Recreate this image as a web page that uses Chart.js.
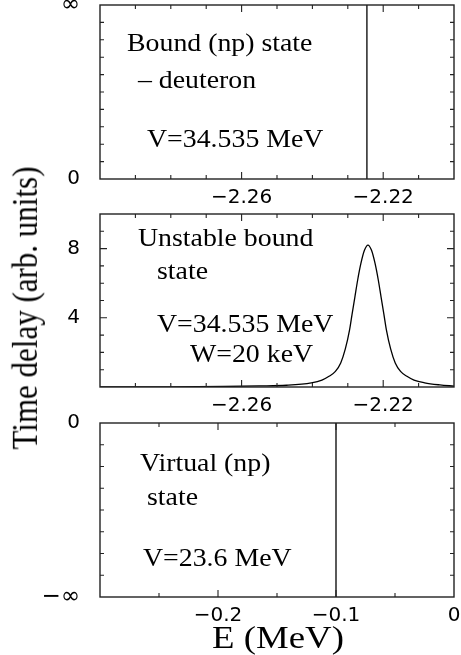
<!DOCTYPE html>
<html>
<head>
<meta charset="utf-8">
<script src="https://cdn.jsdelivr.net/npm/chart.js@4/dist/chart.umd.min.js"></script>
<style>
body { margin: 0; background: #fff; }
#wrap { position: relative; width: 461px; height: 655px; overflow: hidden; }
canvas { position: absolute; left: 0; }
.title { position: absolute; font-family: "Liberation Serif", serif; white-space: nowrap; color: #000; }
#ytitle { font-size: 31px; line-height: 31px; left: 25px; top: 308px; transform: translate(-50%, -50%) scaleX(1.15) rotate(-90deg); }
#xtitle { font-size: 32px; line-height: 32px; left: 278px; top: 621px; transform: translateX(-50%) scaleX(1.15); }
</style>
</head>
<body>
<div id="wrap">
  <canvas id="c1" width="461" height="215" style="top:0px"></canvas>
  <canvas id="c2" width="461" height="230" style="top:195px"></canvas>
  <canvas id="c3" width="461" height="230" style="top:400px"></canvas>
  <div class="title" id="ytitle">Time delay (arb. units)</div>
  <div class="title" id="xtitle">E (MeV)</div>
</div>
<script>
// panel 1: bound (np) state - deuteron, a sharp line at the binding energy
var boundE = [-2.2246, -2.2246];
var boundT = [0, 10];

// panel 2: unstable bound state, peak
var unstableE = [-2.300, -2.280, -2.265, -2.255, -2.2473, -2.2403, -2.2373, -2.2353, -2.2335, -2.2320,
                 -2.2307, -2.2295, -2.2288, -2.2280, -2.2272, -2.2263, -2.2253, -2.2243, -2.2233, -2.2223,
                 -2.2214, -2.2206, -2.2198, -2.2191, -2.2179, -2.2166, -2.2151, -2.2133, -2.2113, -2.2083,
                 -2.2040, -2.2000];
var unstableT = [0.00, 0.01, 0.03, 0.06, 0.10, 0.24, 0.40, 0.62, 0.90, 1.39,
                 2.20, 3.30, 4.20, 5.20, 6.20, 7.14, 7.90, 8.20, 7.90, 7.14,
                 6.20, 5.20, 4.20, 3.30, 2.20, 1.39, 0.90, 0.62, 0.40, 0.24,
                 0.12, 0.05];

// panel 3: virtual (np) state
var virtualE = [-0.1, -0.1];
var virtualT = [-8, 0];

// tick labels
var xTicksTop = [-2.26, -2.22];
var xTicksBottom = [-0.2, -0.1, 0];
var yTicks1 = [0, 10], yText1 = ['0', '\u221e'];
var yTicks2 = [4, 8], yText2 = ['4', '8'];
var yTicks3 = [0, -8], yText3 = ['0', '\u2212\u221e'];

function fmt(v) {
    var s = v === 0 ? '0' : String(v);
    return s.replace('-', '\u2212');
}

function xLabeler(list) {
    return function (v) {
        for (var i = 0; i < list.length; i++) {
            if (Math.abs(list[i] - v) < 1e-6) return fmt(list[i]);
        }
        return '';
    };
}
function yLabeler(vals, txt) {
    return function (v) {
        for (var i = 0; i < vals.length; i++) {
            if (Math.abs(vals[i] - v) < 1e-6) return txt[i];
        }
        return '';
    };
}

function pts(xs, ys) {
    return xs.map(function (x, i) { return { x: x, y: ys[i] }; });
}

// frame on four sides with inward tick marks
var frameTicks = {
    id: 'frameTicks',
    afterDraw: function (chart) {
        var ctx = chart.ctx, a = chart.chartArea;
        var x = chart.scales.x, y = chart.scales.y;
        ctx.save();
        ctx.strokeStyle = '#222';
        ctx.lineWidth = 1.4;
        ctx.strokeRect(a.left, a.top, a.right - a.left, a.bottom - a.top);
        ctx.lineWidth = 1.1;
        ctx.beginPath();
        x.ticks.forEach(function (t) {
            var p = x.getPixelForValue(t.value);
            if (p <= a.left + 1 || p >= a.right - 1) return;
            var len = t.label ? 7 : 4;
            ctx.moveTo(p, a.bottom); ctx.lineTo(p, a.bottom - len);
            ctx.moveTo(p, a.top); ctx.lineTo(p, a.top + len);
        });
        y.ticks.forEach(function (t) {
            var p = y.getPixelForValue(t.value);
            if (p <= a.top + 1 || p >= a.bottom - 1) return;
            var len = t.label ? 7 : 4;
            ctx.moveTo(a.left, p); ctx.lineTo(a.left + len, p);
            ctx.moveTo(a.right, p); ctx.lineTo(a.right - len, p);
        });
        ctx.stroke();
        ctx.restore();
    }
};

// text notes inside each panel
var notes = {
    id: 'notes',
    afterDraw: function (chart, args, opts) {
        var ctx = chart.ctx, a = chart.chartArea;
        ctx.save();
        ctx.fillStyle = '#000';
        ctx.font = '26px "Liberation Serif"';
        ctx.textBaseline = 'alphabetic';
        (opts.items || []).forEach(function (n) {
            ctx.save();
            ctx.translate(a.left + n[1], a.top + n[2]);
            ctx.scale(1.07, 1);
            ctx.fillText(n[0], 0, 0);
            ctx.restore();
        });
        ctx.restore();
    }
};

function tickFont(c) {
    var big = c.tick && typeof c.tick.label === 'string' && c.tick.label.indexOf('\u221e') >= 0;
    return { family: 'DejaVu Sans', size: big ? 23 : 20 };
}

function makePanel(id, padTop, axisH, data, smooth, xr, xLab, yr, yLab, items) {
    return new Chart(document.getElementById(id), {
        type: 'line',
        data: {
            datasets: [{
                data: data,
                borderColor: '#000',
                borderWidth: 1.3,
                pointRadius: 0,
                fill: false,
                cubicInterpolationMode: smooth ? 'monotone' : 'default',
                tension: 0
            }]
        },
        options: {
            responsive: false,
            animation: false,
            layout: { padding: { top: padTop, right: 7, bottom: 0, left: 0 } },
            plugins: {
                legend: { display: false },
                tooltip: { enabled: false },
                notes: { items: items }
            },
            scales: {
                x: {
                    type: 'linear',
                    min: xr[0], max: xr[1],
                    grid: { display: false, drawTicks: false },
                    border: { display: false },
                    ticks: {
                        stepSize: xr[2],
                        autoSkip: false,
                        maxRotation: 0,
                        padding: 7,
                        color: '#000',
                        font: { family: 'DejaVu Sans', size: 20 },
                        callback: xLab
                    },
                    afterFit: function (s) {
                        s.height = axisH;
                        s.paddingLeft = 0; s.paddingRight = 0;
                    }
                },
                y: {
                    min: yr[0], max: yr[1],
                    grid: { display: false, drawTicks: false },
                    border: { display: false },
                    ticks: {
                        stepSize: 1,
                        autoSkip: false,
                        padding: 20,
                        color: '#000',
                        font: tickFont,
                        callback: yLab
                    },
                    afterFit: function (s) {
                        s.width = 100;
                        s.paddingTop = 0; s.paddingBottom = 0;
                    }
                }
            }
        },
        plugins: [frameTicks, notes]
    });
}

makePanel('c1', 5, 36, pts(boundE, boundT), false,
    [-2.30, -2.20, 0.01], xLabeler(xTicksTop), [0, 10], yLabeler(yTicks1, yText1),
    [['Bound (np) state', 27, 46], ['\u2013 deuteron', 38, 83], ['V=34.535 MeV', 47, 142]]);

makePanel('c2', 19, 38, pts(unstableE, unstableT), true,
    [-2.30, -2.20, 0.01], xLabeler(xTicksTop), [0, 10], yLabeler(yTicks2, yText2),
    [['Unstable bound', 38, 32], ['state', 57, 65], ['V=34.535 MeV', 57, 118], ['W=20 keV', 90, 148]]);

makePanel('c3', 23, 33, pts(virtualE, virtualT), false,
    [-0.3, 0, 0.05], xLabeler(xTicksBottom), [-8, 0], yLabeler(yTicks3, yText3),
    [['Virtual (np)', 40, 48], ['state', 47, 82], ['V=23.6 MeV', 43, 143]]);
</script>
</body>
</html>
